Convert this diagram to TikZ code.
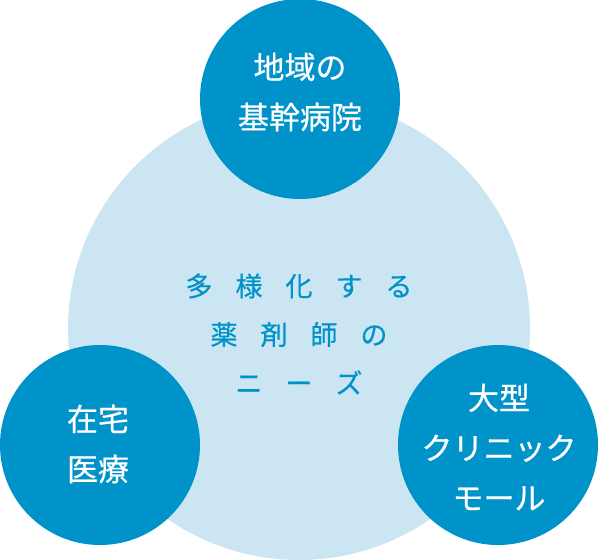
\documentclass[tikz,border=0pt]{standalone}
\usepackage{fontspec}
\setmainfont{Noto Sans CJK JP}
\newfontfamily\medfont[FakeBold=0.5]{Noto Sans CJK JP}
\definecolor{darkb}{HTML}{0093C9}
\definecolor{lightb}{HTML}{CCE5F2}
\newcommand{\gp}{\hspace{23pt}}
\begin{document}
\begin{tikzpicture}[x=1pt,y=-1pt,
  big/.style={circle,fill=lightb,minimum size=462pt,inner sep=0pt},
  sat/.style={circle,fill=darkb,minimum size=200pt,inner sep=0pt},
  sattext/.style={text=white,align=center,font=\medfont\fontsize{31}{50}\selectfont},
  midtext/.style={text=darkb,align=center,font=\medfont\fontsize{27}{48.5}\selectfont}]
\useasboundingbox (0,0) rectangle (598,560);
\node[big] (c) at (299,329) {};
\node[sat] (t) at (300,99) {};
\node[sat] (l) at (100,445) {};
\node[sat] (r) at (498,445) {};
\node[sattext] (tt) at (300,92) {地域の\\基幹病院};
\node[sattext] (lt) at (98,444) {在宅\\医療};
\node[sattext] (rt) at (499,447) {大型\\クリニック\\モール};
\node[midtext] (ct) at (299,334) {多\gp 様\gp 化\gp す\gp る\\薬\gp 剤\gp 師\gp の\\ニ\gp ー\gp ズ};
\end{tikzpicture}
\end{document}
